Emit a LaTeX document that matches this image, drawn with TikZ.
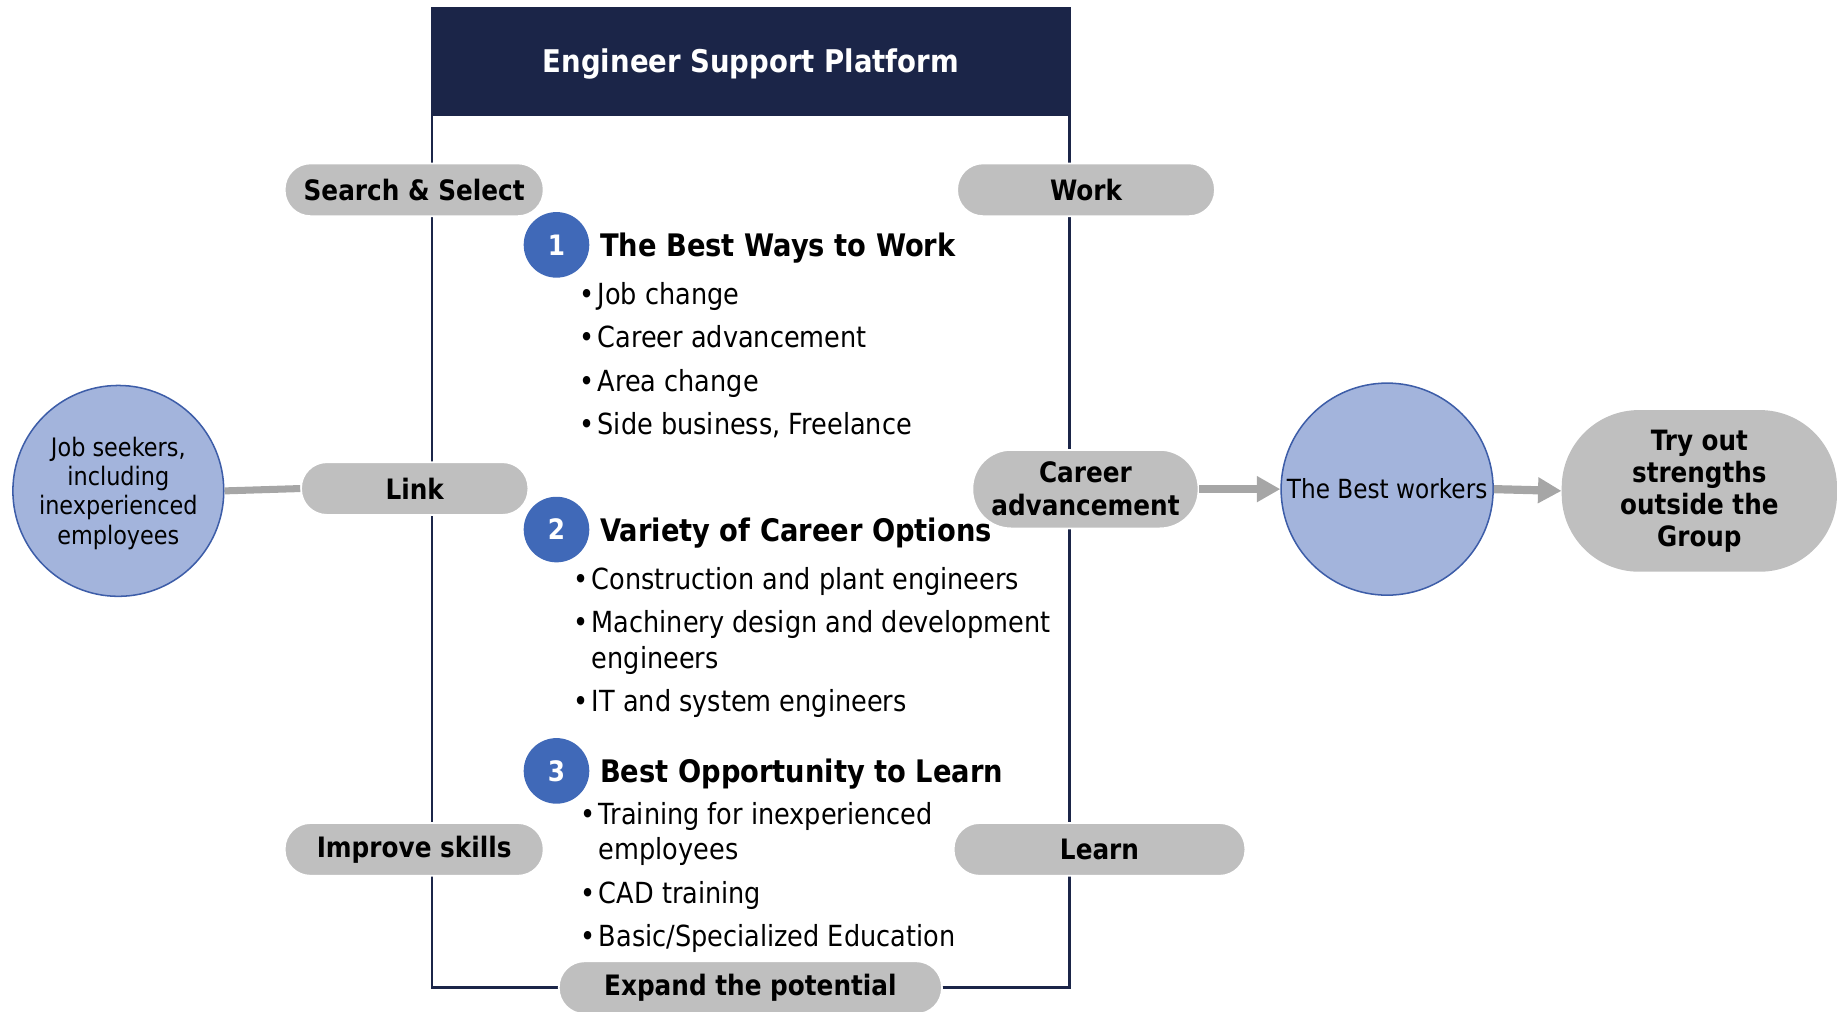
\documentclass[tikz,border=0pt]{standalone}
\usepackage{fontspec}
\setmainfont{DejaVu Sans}[FakeStretch=0.88]
\usetikzlibrary{arrows.meta}
\definecolor{navy}{HTML}{1B2548}
\definecolor{pillgray}{HTML}{BFBFBF}
\definecolor{lightblue}{HTML}{A3B4DC}
\definecolor{circblue}{HTML}{3D5DA8}
\definecolor{numblue}{HTML}{4069B8}
\definecolor{arrgray}{HTML}{A6A6A6}
\begin{document}
\begin{tikzpicture}[x=1pt,y=-1pt,
  pill/.style={fill=pillgray, draw=white, line width=1.5pt, rounded corners=22pt,
    minimum height=45pt, inner sep=0pt, align=center,
    font=\fontsize{24}{28}\selectfont\bfseries},
  bigcirc/.style={circle, fill=lightblue, draw=circblue, line width=1.3pt, inner sep=0pt, align=center},
  numc/.style={circle, fill=numblue, minimum size=56pt, inner sep=0pt, text=white,
    font=\fontsize{24}{28}\selectfont\bfseries},
  head/.style={anchor=base west, inner sep=0pt, font=\fontsize{26.5}{30}\selectfont\bfseries},
  item/.style={anchor=base west, inner sep=0pt, font=\fontsize{24.8}{31}\selectfont},
  bul/.style={anchor=base, inner sep=0pt, font=\fontsize{24.8}{31}\selectfont},
  conn/.style={draw=arrgray, line width=6pt},
  arr/.style={draw=arrgray, line width=7pt, -{Triangle[length=20pt,width=21pt]}}
]
\useasboundingbox (0,0) rectangle (1568,863);
% frame
\draw[navy, line width=2pt] (369,7) rectangle (913,843);
\fill[navy] (369,7) rectangle (913,99);
\node[anchor=base, inner sep=0pt, text=white, font=\fontsize{26.7}{30}\selectfont\bfseries] (title) at (641,62) {Engineer Support Platform};

% pills
\node[pill, minimum width=221pt] (ss) at (353.5,162) {Search \& Select};
\node[pill, minimum width=220pt] (work) at (927,162) {Work};
\node[pill, minimum width=194pt] (link) at (354,417) {Link};
\node[pill, minimum width=193pt, minimum height=67pt, rounded corners=33pt] (ca) at (926.5,417.5) {Career\\advancement};
\node[pill, minimum width=221pt] (imp) at (353.5,725) {Improve skills};
\node[pill, minimum width=249pt] (learn) at (938.5,725) {Learn};
\node[pill, minimum width=327pt] (exp) at (640.5,843) {Expand the potential};

% circles
\node[bigcirc, minimum size=180pt, font=\fontsize{21.7}{25}\selectfont] (job) at (101,419) {};
\node[align=center, inner sep=0pt, font=\fontsize{21.7}{25}\selectfont] (jobtxt) at (101,421) {Job seekers,\\including\\inexperienced\\employees};
\node[bigcirc, minimum size=181pt, font=\fontsize{22.5}{26}\selectfont] (bw) at (1184,417.5) {The Best workers};
\node[fill=pillgray, rounded corners=66pt, minimum width=235pt, minimum height=138pt, inner sep=0pt, align=center,
  font=\fontsize{23.9}{27.3}\selectfont\bfseries] (try) at (1450.5,419) {Try out\\strengths\\outside the\\Group};

% connectors
\draw[conn] (job.east) -- (link.west);
\draw[arr] (ca.east) -- (bw.west);
\draw[arr] (bw.east) -- (try.west);

% section 1
\node[numc] (n1) at (475,209) {1};
\node[head] (h1) at (512,219) {The Best Ways to Work};
\node[bul] (b11) at (501,260) {•};
\node[item] (t11) at (510,260) {Job change};
\node[bul] (b12) at (501,297) {•};
\node[item] (t12) at (510,297) {Career advancement};
\node[bul] (b13) at (501,334) {•};
\node[item] (t13) at (510,334) {Area change};
\node[bul] (b14) at (501,371) {•};
\node[item] (t14) at (510,371) {Side business, Freelance};

% section 2
\node[numc] (n2) at (475,452) {2};
\node[head] (h2) at (512,462) {Variety of Career Options};
\node[bul] (b21) at (496,503) {•};
\node[item] (t21) at (505,503) {Construction and plant engineers};
\node[bul] (b22) at (496,540) {•};
\node[item] (t22) at (505,540) {Machinery design and development};
\node[item] (t22b) at (505,571) {engineers};
\node[bul] (b23) at (496,607) {•};
\node[item] (t23) at (505,607) {IT and system engineers};

% section 3
\node[numc] (n3) at (475,658) {3};
\node[head] (h3) at (512,668) {Best Opportunity to Learn};
\node[bul] (b31) at (502,704) {•};
\node[item] (t31) at (511,704) {Training for inexperienced};
\node[item] (t31b) at (511,734) {employees};
\node[bul] (b32) at (502,771) {•};
\node[item] (t32) at (511,771) {CAD training};
\node[bul] (b33) at (502,808) {•};
\node[item] (t33) at (511,808) {Basic/Specialized Education};
\end{tikzpicture}
\end{document}
